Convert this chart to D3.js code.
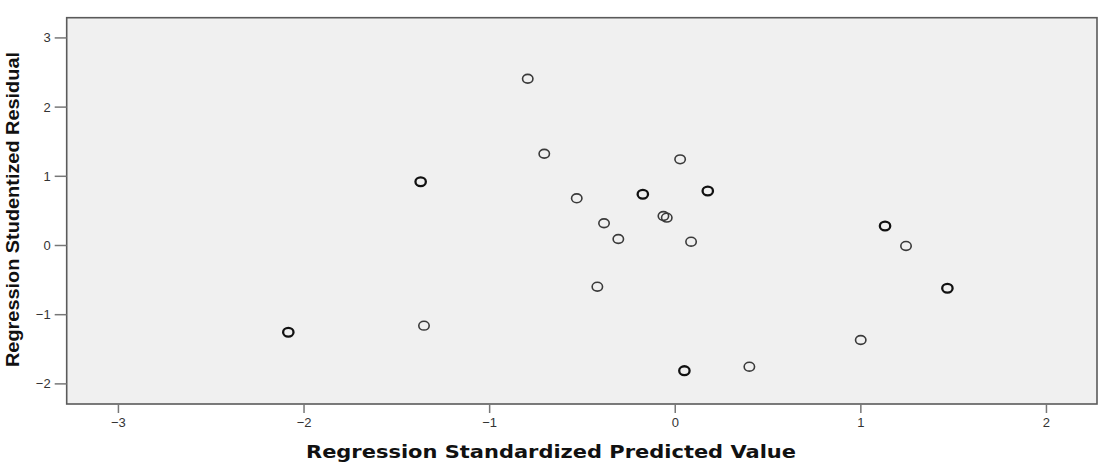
<!DOCTYPE html>
<html>
<head>
<meta charset="utf-8">
<script src="https://cdn.jsdelivr.net/npm/d3@7"></script>
<style>
  body { margin: 0; background: #fff; }
</style>
</head>
<body>
<svg id="chart" width="1104" height="463"></svg>
<script>
// predicted (x) and studentized residual (y), count = overlapping cases
const predicted = [-0.792, -0.703, 0.029, -1.369, -0.528, -0.172, 0.178, -0.381, -0.061, -0.043, -0.304,
  0.088, 1.133, 1.246, 1.469, -0.417, -2.082, -1.351, 1.002, 0.052, 0.402];
const residual = [2.403, 1.319, 1.238, 0.915, 0.675, 0.733, 0.780, 0.314, 0.419, 0.395, 0.087,
  0.048, 0.275, -0.014, -0.626, -0.603, -1.262, -1.166, -1.373, -1.816, -1.759];
const counts = [1, 1, 1, 2, 1, 2, 2, 1, 1, 1, 1, 1, 2, 1, 2, 1, 2, 1, 1, 2, 1];
const xTicks = [-3, -2, -1, 0, 1, 2];
const yTicks = [-2, -1, 0, 1, 2, 3];
const xTitle = 'Regression Standardized Predicted Value';
const yTitle = 'Regression Studentized Residual';

const svg = d3.select('#chart');
const margin = { top: 17.7, left: 66.7, right: 7, bottom: 59 };
const W = 1104, H = 463;
const iw = W - margin.left - margin.right;
const ih = H - margin.top - margin.bottom;

const x = d3.scaleLinear().domain([-3.276, 2.275]).range([0, iw]);
const y = d3.scaleLinear().domain([-2.298, 3.285]).range([ih, 0]);

const g = svg.append('g').attr('transform', `translate(${margin.left},${margin.top})`);

// plot frame
g.append('rect')
  .attr('width', iw).attr('height', ih)
  .attr('fill', '#f0f0f0')
  .attr('stroke', '#5a5a5a')
  .attr('stroke-width', 1.6);

// axes
const xAxis = g.append('g').attr('transform', `translate(0,${ih})`)
  .call(d3.axisBottom(x).tickValues(xTicks).tickSize(9).tickPadding(5).tickFormat(d3.format('d')));
const yAxis = g.append('g')
  .call(d3.axisLeft(y).tickValues(yTicks).tickSize(12).tickPadding(4).tickFormat(d3.format('d')));
[xAxis, yAxis].forEach(a => {
  a.select('.domain').remove();
  a.selectAll('line').attr('stroke', '#777').attr('stroke-width', 1.5);
  a.selectAll('text').attr('fill', '#333').attr('font-size', 13)
    .attr('font-family', 'Liberation Sans, Arial, sans-serif');
});
yAxis.selectAll('text').attr('dy', '0.35em');

// points
const pts = predicted.map((d, i) => ({ x: d, y: residual[i], n: counts[i] }));
g.append('g').selectAll('ellipse')
  .data(pts)
  .join('ellipse')
  .attr('cx', d => x(d.x))
  .attr('cy', d => y(d.y))
  .attr('rx', 5.2)
  .attr('ry', 4.4)
  .attr('fill', 'none')
  .attr('stroke', d => d.n > 1 ? '#111' : '#3a3a3a')
  .attr('stroke-width', d => d.n > 1 ? 2.3 : 1.6);

// titles
svg.append('text')
  .attr('x', 306).attr('y', 458)
  .attr('font-family', 'DejaVu Sans, Verdana, sans-serif')
  .attr('font-weight', 'bold')
  .attr('font-size', 17)
  .attr('fill', '#111')
  .attr('textLength', 490)
  .attr('lengthAdjust', 'spacingAndGlyphs')
  .text(xTitle);

svg.append('text')
  .attr('transform', 'translate(19,367) rotate(-90)')
  .attr('font-family', 'Liberation Sans, Arial, sans-serif')
  .attr('font-weight', 'bold')
  .attr('font-size', 19)
  .attr('fill', '#111')
  .attr('textLength', 315)
  .attr('lengthAdjust', 'spacingAndGlyphs')
  .text(yTitle);
</script>
</body>
</html>
